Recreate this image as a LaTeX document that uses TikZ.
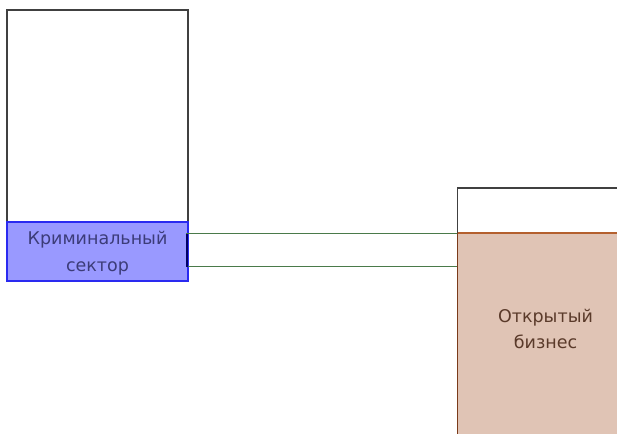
\documentclass[tikz,border=0pt]{standalone}
\usepackage{fontspec}
\setmainfont{DejaVu Sans}
\definecolor{bluefill}{HTML}{9999FF}
\definecolor{blueline}{HTML}{2A2AF0}
\definecolor{bluetext}{HTML}{3C3C78}
\definecolor{greenline}{HTML}{4A7A4A}
\definecolor{brownfill}{HTML}{E0C4B5}
\definecolor{brownline}{HTML}{B4602E}
\definecolor{browndark}{HTML}{7A3A1A}
\definecolor{browntext}{HTML}{5A3A2A}
\begin{document}
\begin{tikzpicture}[x=1pt,y=-1pt,
  frame/.style={draw=black!75,line width=1.2pt},
  lbl/.style={align=center,font=\fontsize{17.5}{26.5}\selectfont,inner sep=0pt}]
\useasboundingbox (0,0) rectangle (617,433);
% left box
\draw[frame] (7,10) rectangle (188,281);
\path[fill=bluefill,draw=blueline,line width=1.2pt] (7,222) rectangle (188,281);
\node[lbl,text=bluetext] (crim) at (97.5,253) {Криминальный\\сектор};
% right box
\draw[frame] (640,188) -- (457.5,188) -- (457.5,233);
\fill[brownfill] (457.5,233) rectangle (640,440);
\draw[brownline,line width=1.2pt] (457.5,233) -- (640,233);
\draw[browndark,line width=1.6pt] (457.5,233) -- (457.5,440);
\node[lbl,text=browntext] (open) at (545.5,329) {Открытый\\бизнес};
% connector
\coordinate (a) at (457,233.5);
\coordinate (b) at (457,266.5);
\draw[greenline,line width=1.2pt] (a) -- (187,233.5) -- (187,266.5) -- (b);
\draw[black!60!blue,line width=1.2pt] (187,233.5) -- (187,266.5);
\end{tikzpicture}
\end{document}
